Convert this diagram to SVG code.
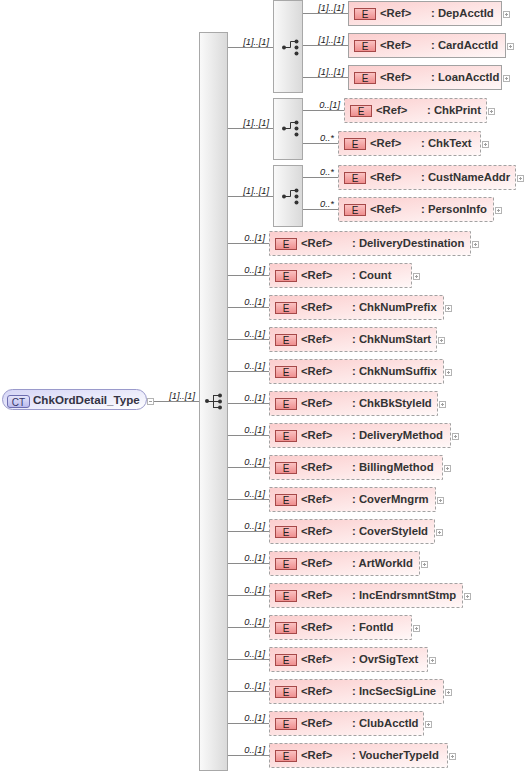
<svg xmlns="http://www.w3.org/2000/svg" width="527" height="776" viewBox="0 0 527 776">
<defs>
<linearGradient id="gBox" x1="0" y1="0" x2="1" y2="1"><stop offset="0" stop-color="#fbcdcd"/><stop offset="1" stop-color="#fff8f8"/></linearGradient>
<linearGradient id="gIco" x1="0" y1="0" x2="0" y2="1"><stop offset="0" stop-color="#fbc4c4"/><stop offset="1" stop-color="#ee8c8c"/></linearGradient>
<linearGradient id="gGrp" x1="0" y1="0" x2="1" y2="0"><stop offset="0" stop-color="#fafafa"/><stop offset="1" stop-color="#d9d9d9"/></linearGradient>
<linearGradient id="gCT" x1="0" y1="0" x2="1" y2="1"><stop offset="0" stop-color="#d4d4f6"/><stop offset="1" stop-color="#ffffff"/></linearGradient>
<linearGradient id="gCTi" x1="0" y1="0" x2="0" y2="1"><stop offset="0" stop-color="#e6e6fb"/><stop offset="1" stop-color="#b9b9ec"/></linearGradient>
<symbol id="plus" viewBox="0 0 7 7" width="7" height="7" overflow="visible"><rect x="0.5" y="0.5" width="6" height="6" fill="#fff" stroke="#b4b4b4"/><path d="M2 3.5H5M3.5 2V5" stroke="#a0a0a0" fill="none"/></symbol>
<symbol id="minus" viewBox="0 0 7 7" width="7" height="7" overflow="visible"><rect x="0.5" y="0.5" width="6" height="6" fill="#fff" stroke="#b4b4b4"/><path d="M2 3.5H5" stroke="#a0a0a0" fill="none"/></symbol>
<g id="seqIco"><circle cx="0" cy="0" r="2" fill="#333"/><path d="M0 0.5H6.5M6.5 -6V7M6.5 -5.5H12M6.5 0.5H12M6.5 6.5H12" stroke="#333" fill="none"/><circle cx="13" cy="-5.5" r="2" fill="#333"/><circle cx="13" cy="0.5" r="2" fill="#333"/><circle cx="13" cy="6.5" r="2" fill="#333"/></g>
<g id="choiceIco"><circle cx="0" cy="0.5" r="2" fill="#333"/><path d="M0 0.5H6.5V-5.5H12" stroke="#333" fill="none"/><circle cx="12.5" cy="-5.5" r="2" fill="#333"/><circle cx="12.5" cy="0.5" r="2" fill="#333"/><circle cx="12.5" cy="6.5" r="2" fill="#333"/></g>
</defs>
<style>
.box{fill:url(#gBox);stroke:#a2a2a2;stroke-width:1}
.opt .box{stroke-dasharray:3 2}
.eico{fill:url(#gIco);stroke:#a54848;stroke-width:1}
.etx{font-family:"Liberation Sans",Arial,sans-serif;font-size:10px;fill:#222;text-anchor:middle}
.ref,.nm{font-family:"Liberation Sans",Arial,sans-serif;font-size:11.3px;font-weight:bold;fill:#333}
.lbl{font-family:"Liberation Sans",Arial,sans-serif;font-size:9.3px;font-style:italic;fill:#222;text-anchor:end}
.grp{fill:url(#gGrp);stroke:#a8a8a8;stroke-width:1}
.con path{stroke:#8a8a8a;stroke-width:1;fill:none}
</style>

<!-- connectors -->
<g id="connectors" class="con">
<path d="M154 401.5H199"/>
<path d="M228 47.5H273M228 128.5H273M228 196.5H273"/>
<path d="M303 13.5H348M303 45.5H348M303 77.5H348"/>
<path d="M303 110.5H344M303 143.5H338"/>
<path d="M303 177.5H338M303 209.5H338"/>
<path d="M228 243.5H269M228 275.5H269M228 307.5H269M228 339.5H269M228 371.5H269M228 403.5H269M228 435.5H269M228 467.5H269M228 499.5H269M228 531.5H269M228 563.5H269M228 595.5H269M228 627.5H269M228 659.5H269M228 691.5H269M228 723.5H269M228 755.5H269"/>
<text class="lbl" x="195" y="399">[1]..[1]</text>
<text class="lbl" x="269" y="45">[1]..[1]</text>
<text class="lbl" x="269" y="126">[1]..[1]</text>
<text class="lbl" x="269" y="194">[1]..[1]</text>
<text class="lbl" x="344" y="11">[1]..[1]</text>
<text class="lbl" x="344" y="43">[1]..[1]</text>
<text class="lbl" x="344" y="75">[1]..[1]</text>
<text class="lbl" x="340" y="108">0..[1]</text>
<text class="lbl" x="334" y="141">0..*</text>
<text class="lbl" x="334" y="175">0..*</text>
<text class="lbl" x="334" y="207">0..*</text>
<text class="lbl" x="265" y="241">0..[1]</text>
<text class="lbl" x="265" y="273">0..[1]</text>
<text class="lbl" x="265" y="305">0..[1]</text>
<text class="lbl" x="265" y="337">0..[1]</text>
<text class="lbl" x="265" y="369">0..[1]</text>
<text class="lbl" x="265" y="401">0..[1]</text>
<text class="lbl" x="265" y="433">0..[1]</text>
<text class="lbl" x="265" y="465">0..[1]</text>
<text class="lbl" x="265" y="497">0..[1]</text>
<text class="lbl" x="265" y="529">0..[1]</text>
<text class="lbl" x="265" y="561">0..[1]</text>
<text class="lbl" x="265" y="593">0..[1]</text>
<text class="lbl" x="265" y="625">0..[1]</text>
<text class="lbl" x="265" y="657">0..[1]</text>
<text class="lbl" x="265" y="689">0..[1]</text>
<text class="lbl" x="265" y="721">0..[1]</text>
<text class="lbl" x="265" y="753">0..[1]</text>
</g>

<!-- complex type -->
<g id="ct-ChkOrdDetail_Type">
<rect x="2.5" y="389.5" width="144" height="20" rx="10" fill="url(#gCT)" stroke="#9a9acb"/>
<rect x="7.5" y="395.5" width="22" height="12" rx="2.5" fill="url(#gCTi)" stroke="#6d6db0"/>
<text x="18.5" y="405.5" font-family="Liberation Sans,Arial,sans-serif" font-size="10" fill="#333366" text-anchor="middle">CT</text>
<text x="33" y="404" font-family="Liberation Sans,Arial,sans-serif" font-size="11.6" font-weight="bold" fill="#333344">ChkOrdDetail_Type</text>
<use href="#minus" x="147" y="398"/>
</g>

<!-- main sequence -->
<g id="seq-main">
<rect class="grp" x="199.5" y="32.5" width="28" height="738"/>
<use href="#seqIco" x="207" y="401"/>
</g>

<!-- choices -->
<g id="choice-1">
<rect class="grp" x="273.5" y="0.5" width="29" height="92"/>
<use href="#choiceIco" x="284" y="47"/>
</g>
<g id="choice-2">
<rect class="grp" x="273.5" y="98.5" width="29" height="61"/>
<use href="#choiceIco" x="284" y="128"/>
</g>
<g id="choice-3">
<rect class="grp" x="273.5" y="165.5" width="29" height="61"/>
<use href="#choiceIco" x="284" y="196"/>
</g>

<!-- elements in choice 1 -->
<g id="el-DepAcctId" class="el req" transform="translate(348,1)">
<rect class="box" x="0.5" y="0.5" width="153" height="24"/>
<rect class="eico" x="6.5" y="7.5" width="21" height="11"/><text class="etx" x="17" y="16.5">E</text>
<text class="ref" x="32" y="16">&lt;Ref&gt;</text><text class="nm" x="83" y="16">: DepAcctId</text>
<use href="#plus" x="155" y="10"/>
</g>
<g id="el-CardAcctId" class="el req" transform="translate(348,33)">
<rect class="box" x="0.5" y="0.5" width="157" height="24"/>
<rect class="eico" x="6.5" y="7.5" width="21" height="11"/><text class="etx" x="17" y="16.5">E</text>
<text class="ref" x="32" y="16">&lt;Ref&gt;</text><text class="nm" x="83" y="16">: CardAcctId</text>
<use href="#plus" x="159" y="10"/>
</g>
<g id="el-LoanAcctId" class="el req" transform="translate(348,65)">
<rect class="box" x="0.5" y="0.5" width="153" height="24"/>
<rect class="eico" x="6.5" y="7.5" width="21" height="11"/><text class="etx" x="17" y="16.5">E</text>
<text class="ref" x="32" y="16">&lt;Ref&gt;</text><text class="nm" x="83" y="16">: LoanAcctId</text>
<use href="#plus" x="155" y="10"/>
</g>

<!-- elements in choice 2 -->
<g id="el-ChkPrint" class="el opt" transform="translate(344,98)">
<rect class="box" x="0.5" y="0.5" width="142" height="24"/>
<rect class="eico" x="6.5" y="7.5" width="21" height="11"/><text class="etx" x="17" y="16.5">E</text>
<text class="ref" x="32" y="16">&lt;Ref&gt;</text><text class="nm" x="83" y="16">: ChkPrint</text>
<use href="#plus" x="144" y="10"/>
</g>
<g id="el-ChkText" class="el opt" transform="translate(338,131)">
<rect class="box" x="0.5" y="0.5" width="142" height="24"/>
<rect class="eico" x="6.5" y="7.5" width="21" height="11"/><text class="etx" x="17" y="16.5">E</text>
<text class="ref" x="32" y="16">&lt;Ref&gt;</text><text class="nm" x="83" y="16">: ChkText</text>
<use href="#plus" x="144" y="10"/>
</g>

<!-- elements in choice 3 -->
<g id="el-CustNameAddr" class="el opt" transform="translate(338,165)">
<rect class="box" x="0.5" y="0.5" width="177" height="24"/>
<rect class="eico" x="6.5" y="7.5" width="21" height="11"/><text class="etx" x="17" y="16.5">E</text>
<text class="ref" x="32" y="16">&lt;Ref&gt;</text><text class="nm" x="83" y="16">: CustNameAddr</text>
<use href="#plus" x="179" y="10"/>
</g>
<g id="el-PersonInfo" class="el opt" transform="translate(338,197)">
<rect class="box" x="0.5" y="0.5" width="155" height="24"/>
<rect class="eico" x="6.5" y="7.5" width="21" height="11"/><text class="etx" x="17" y="16.5">E</text>
<text class="ref" x="32" y="16">&lt;Ref&gt;</text><text class="nm" x="83" y="16">: PersonInfo</text>
<use href="#plus" x="157" y="10"/>
</g>

<!-- sequence elements -->
<g id="el-DeliveryDestination" class="el opt" transform="translate(269,231)">
<rect class="box" x="0.5" y="0.5" width="201" height="24"/>
<rect class="eico" x="6.5" y="7.5" width="21" height="11"/><text class="etx" x="17" y="16.5">E</text>
<text class="ref" x="32" y="16">&lt;Ref&gt;</text><text class="nm" x="83" y="16">: DeliveryDestination</text>
<use href="#plus" x="203" y="10"/>
</g>
<g id="el-Count" class="el opt" transform="translate(269,263)">
<rect class="box" x="0.5" y="0.5" width="142" height="24"/>
<rect class="eico" x="6.5" y="7.5" width="21" height="11"/><text class="etx" x="17" y="16.5">E</text>
<text class="ref" x="32" y="16">&lt;Ref&gt;</text><text class="nm" x="83" y="16">: Count</text>
<use href="#plus" x="144" y="10"/>
</g>
<g id="el-ChkNumPrefix" class="el opt" transform="translate(269,295)">
<rect class="box" x="0.5" y="0.5" width="174" height="24"/>
<rect class="eico" x="6.5" y="7.5" width="21" height="11"/><text class="etx" x="17" y="16.5">E</text>
<text class="ref" x="32" y="16">&lt;Ref&gt;</text><text class="nm" x="83" y="16">: ChkNumPrefix</text>
<use href="#plus" x="176" y="10"/>
</g>
<g id="el-ChkNumStart" class="el opt" transform="translate(269,327)">
<rect class="box" x="0.5" y="0.5" width="167" height="24"/>
<rect class="eico" x="6.5" y="7.5" width="21" height="11"/><text class="etx" x="17" y="16.5">E</text>
<text class="ref" x="32" y="16">&lt;Ref&gt;</text><text class="nm" x="83" y="16">: ChkNumStart</text>
<use href="#plus" x="169" y="10"/>
</g>
<g id="el-ChkNumSuffix" class="el opt" transform="translate(269,359)">
<rect class="box" x="0.5" y="0.5" width="174" height="24"/>
<rect class="eico" x="6.5" y="7.5" width="21" height="11"/><text class="etx" x="17" y="16.5">E</text>
<text class="ref" x="32" y="16">&lt;Ref&gt;</text><text class="nm" x="83" y="16">: ChkNumSuffix</text>
<use href="#plus" x="176" y="10"/>
</g>
<g id="el-ChkBkStyleId" class="el opt" transform="translate(269,391)">
<rect class="box" x="0.5" y="0.5" width="168" height="24"/>
<rect class="eico" x="6.5" y="7.5" width="21" height="11"/><text class="etx" x="17" y="16.5">E</text>
<text class="ref" x="32" y="16">&lt;Ref&gt;</text><text class="nm" x="83" y="16">: ChkBkStyleId</text>
<use href="#plus" x="170" y="10"/>
</g>
<g id="el-DeliveryMethod" class="el opt" transform="translate(269,423)">
<rect class="box" x="0.5" y="0.5" width="181" height="24"/>
<rect class="eico" x="6.5" y="7.5" width="21" height="11"/><text class="etx" x="17" y="16.5">E</text>
<text class="ref" x="32" y="16">&lt;Ref&gt;</text><text class="nm" x="83" y="16">: DeliveryMethod</text>
<use href="#plus" x="183" y="10"/>
</g>
<g id="el-BillingMethod" class="el opt" transform="translate(269,455)">
<rect class="box" x="0.5" y="0.5" width="173" height="24"/>
<rect class="eico" x="6.5" y="7.5" width="21" height="11"/><text class="etx" x="17" y="16.5">E</text>
<text class="ref" x="32" y="16">&lt;Ref&gt;</text><text class="nm" x="83" y="16">: BillingMethod</text>
<use href="#plus" x="175" y="10"/>
</g>
<g id="el-CoverMngrm" class="el opt" transform="translate(269,487)">
<rect class="box" x="0.5" y="0.5" width="166" height="24"/>
<rect class="eico" x="6.5" y="7.5" width="21" height="11"/><text class="etx" x="17" y="16.5">E</text>
<text class="ref" x="32" y="16">&lt;Ref&gt;</text><text class="nm" x="83" y="16">: CoverMngrm</text>
<use href="#plus" x="168" y="10"/>
</g>
<g id="el-CoverStyleId" class="el opt" transform="translate(269,519)">
<rect class="box" x="0.5" y="0.5" width="165" height="24"/>
<rect class="eico" x="6.5" y="7.5" width="21" height="11"/><text class="etx" x="17" y="16.5">E</text>
<text class="ref" x="32" y="16">&lt;Ref&gt;</text><text class="nm" x="83" y="16">: CoverStyleId</text>
<use href="#plus" x="167" y="10"/>
</g>
<g id="el-ArtWorkId" class="el opt" transform="translate(269,551)">
<rect class="box" x="0.5" y="0.5" width="150" height="24"/>
<rect class="eico" x="6.5" y="7.5" width="21" height="11"/><text class="etx" x="17" y="16.5">E</text>
<text class="ref" x="32" y="16">&lt;Ref&gt;</text><text class="nm" x="83" y="16">: ArtWorkId</text>
<use href="#plus" x="152" y="10"/>
</g>
<g id="el-IncEndrsmntStmp" class="el opt" transform="translate(269,583)">
<rect class="box" x="0.5" y="0.5" width="193" height="24"/>
<rect class="eico" x="6.5" y="7.5" width="21" height="11"/><text class="etx" x="17" y="16.5">E</text>
<text class="ref" x="32" y="16">&lt;Ref&gt;</text><text class="nm" x="83" y="16">: IncEndrsmntStmp</text>
<use href="#plus" x="195" y="10"/>
</g>
<g id="el-FontId" class="el opt" transform="translate(269,615)">
<rect class="box" x="0.5" y="0.5" width="142" height="24"/>
<rect class="eico" x="6.5" y="7.5" width="21" height="11"/><text class="etx" x="17" y="16.5">E</text>
<text class="ref" x="32" y="16">&lt;Ref&gt;</text><text class="nm" x="83" y="16">: FontId</text>
<use href="#plus" x="144" y="10"/>
</g>
<g id="el-OvrSigText" class="el opt" transform="translate(269,647)">
<rect class="box" x="0.5" y="0.5" width="158" height="24"/>
<rect class="eico" x="6.5" y="7.5" width="21" height="11"/><text class="etx" x="17" y="16.5">E</text>
<text class="ref" x="32" y="16">&lt;Ref&gt;</text><text class="nm" x="83" y="16">: OvrSigText</text>
<use href="#plus" x="160" y="10"/>
</g>
<g id="el-IncSecSigLine" class="el opt" transform="translate(269,679)">
<rect class="box" x="0.5" y="0.5" width="174" height="24"/>
<rect class="eico" x="6.5" y="7.5" width="21" height="11"/><text class="etx" x="17" y="16.5">E</text>
<text class="ref" x="32" y="16">&lt;Ref&gt;</text><text class="nm" x="83" y="16">: IncSecSigLine</text>
<use href="#plus" x="176" y="10"/>
</g>
<g id="el-ClubAcctId" class="el opt" transform="translate(269,711)">
<rect class="box" x="0.5" y="0.5" width="154" height="24"/>
<rect class="eico" x="6.5" y="7.5" width="21" height="11"/><text class="etx" x="17" y="16.5">E</text>
<text class="ref" x="32" y="16">&lt;Ref&gt;</text><text class="nm" x="83" y="16">: ClubAcctId</text>
<use href="#plus" x="156" y="10"/>
</g>
<g id="el-VoucherTypeId" class="el opt" transform="translate(269,743)">
<rect class="box" x="0.5" y="0.5" width="178" height="24"/>
<rect class="eico" x="6.5" y="7.5" width="21" height="11"/><text class="etx" x="17" y="16.5">E</text>
<text class="ref" x="32" y="16">&lt;Ref&gt;</text><text class="nm" x="83" y="16">: VoucherTypeId</text>
<use href="#plus" x="180" y="10"/>
</g>
</svg>
